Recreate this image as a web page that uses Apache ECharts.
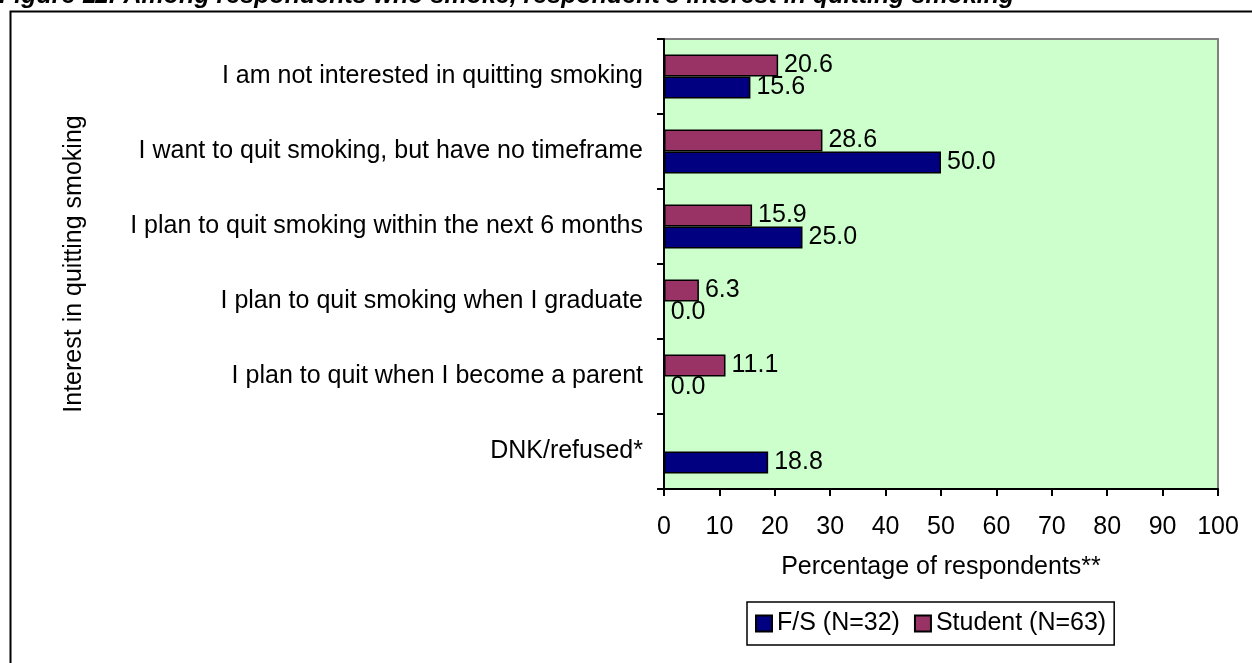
<!DOCTYPE html>
<html>
<head>
<meta charset="utf-8">
<script src="https://cdn.jsdelivr.net/npm/echarts@6/dist/echarts.min.js"></script>
<style>
html,body{margin:0;padding:0;background:#fff;}
#chart{width:1252px;height:663px;}
</style>
</head>
<body>
<div id="chart"></div>
<script>
const categories = [
  "I am not interested in quitting smoking",
  "I want to quit smoking, but have no timeframe",
  "I plan to quit smoking within the next 6 months",
  "I plan to quit smoking when I graduate",
  "I plan to quit when I become a parent",
  "DNK/refused*"
];
const fsValues = [15.6, 50.0, 25.0, 0.0, 0.0, 18.8];
const studentValues = [20.6, 28.6, 15.9, 6.3, 11.1, null];
const xTicks = [0, 10, 20, 30, 40, 50, 60, 70, 80, 90, 100];
const seriesNames = ["F/S (N=32)", "Student (N=63)"];
const titleText = "Figure 11: Among respondents who smoke, respondent's interest in quitting smoking";

const FONT = "Liberation Sans, Arial, sans-serif";
const FS = 25;
const chart = echarts.init(document.getElementById('chart'));
const labelCfg = {
  show: true, position: 'right', distance: 6,
  color: '#000', fontSize: FS, fontFamily: FONT,
  formatter: p => p.value == null ? '' : Number(p.value).toFixed(1)
};
chart.setOption({
  animation: false,
  backgroundColor: '#fff',
  title: {
    text: titleText, left: -1, top: -16, padding: 0,
    textStyle: {fontFamily: FONT, fontSize: 25, fontWeight: 'bold', fontStyle: 'italic', color: '#000'}
  },
  graphic: [{
    type: 'rect', left: 8, top: 9, z: 0,
    shape: {width: 1260, height: 670},
    style: {fill: 'none', stroke: '#000', lineWidth: 2}
  }],
  grid: {
    left: 664, right: 34, top: 39, bottom: 174,
    show: true, backgroundColor: '#CCFFCC', borderColor: '#808080', borderWidth: 2
  },
  legend: {
    data: seriesNames, left: 747, top: 602,
    padding: [9, 8, 9, 8],
    borderColor: '#000', borderWidth: 1.5, backgroundColor: '#fff',
    itemWidth: 16, itemHeight: 16, itemGap: 14,
    textStyle: {fontFamily: FONT, fontSize: 25, color: '#000'},
    icon: 'rect'
  },
  xAxis: {
    type: 'value', min: 0, max: 100, interval: 10,
    name: 'Percentage of respondents**', nameLocation: 'middle', nameGap: 66,
    nameTextStyle: {fontFamily: FONT, fontSize: 25, color: '#000'},
    axisLine: {show: true, lineStyle: {color: '#000', width: 2}},
    axisTick: {show: true, length: 7, lineStyle: {color: '#000', width: 2}},
    axisLabel: {fontFamily: FONT, fontSize: FS, color: '#000', margin: 26,
      formatter: v => xTicks.includes(v) ? String(v) : ''},
    splitLine: {show: false}
  },
  yAxis: {
    type: 'category', data: categories, inverse: true,
    name: 'Interest in quitting smoking', nameLocation: 'middle', nameGap: 577,
    nameTextStyle: {fontFamily: FONT, fontSize: 25, color: '#000'},
    axisLine: {show: true, lineStyle: {color: '#000', width: 2}},
    axisTick: {show: true, length: 7, lineStyle: {color: '#000', width: 2}},
    axisLabel: {fontFamily: FONT, fontSize: 25, color: '#000', margin: 21}
  },
  series: [
    {
      name: seriesNames[1], type: 'bar', data: studentValues,
      barWidth: 22, barGap: '0%',
      itemStyle: {color: '#993366', borderColor: '#000', borderWidth: 1.5},
      label: labelCfg
    },
    {
      name: seriesNames[0], type: 'bar', data: fsValues,
      barWidth: 22, barGap: '0%',
      itemStyle: {color: '#000080', borderColor: '#000', borderWidth: 1.5},
      label: labelCfg
    }
  ]
});
</script>
</body>
</html>
